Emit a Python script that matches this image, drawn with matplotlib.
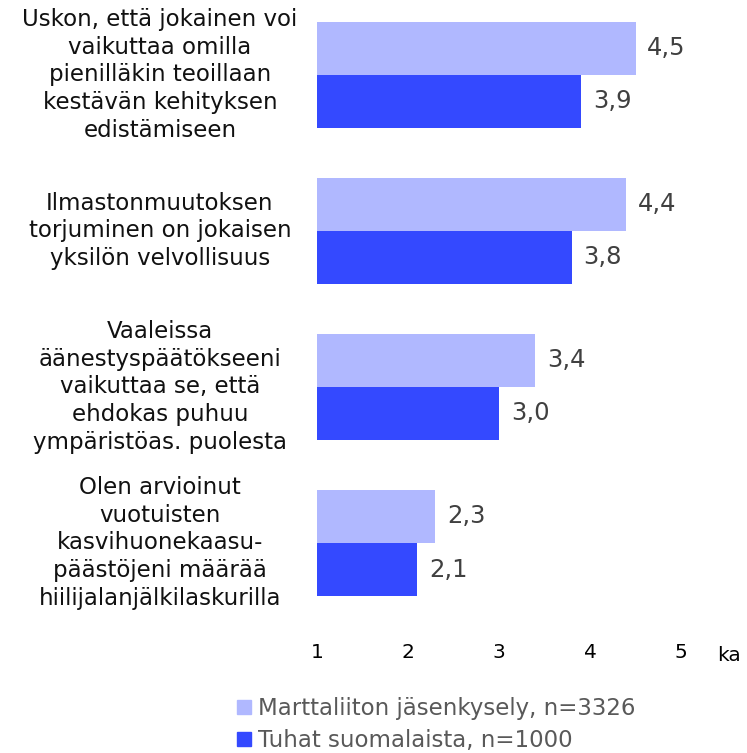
import matplotlib.pyplot as plt
from matplotlib.patches import Patch
import matplotlib.transforms as mtransforms

# Väittämät (ylhäältä alas)
categories = [
    "Uskon, että jokainen voi\nvaikuttaa omilla\npienilläkin teoillaan\nkestävän kehityksen\nedistämiseen",
    "Ilmastonmuutoksen\ntorjuminen on jokaisen\nyksilön velvollisuus",
    "Vaaleissa\näänestyspäätökseeni\nvaikuttaa se, että\nehdokas puhuu\nympäristöas. puolesta",
    "Olen arvioinut\nvuotuisten\nkasvihuonekaasu-\npäästöjeni määrää\nhiilijalanjälkilaskurilla",
]
marttaliitto = [4.5, 4.4, 3.4, 2.3]
suomalaiset = [3.9, 3.8, 3.0, 2.1]
series_names = ["Marttaliiton jäsenkysely, n=3326", "Tuhat suomalaista, n=1000"]
xticks = [1, 2, 3, 4, 5]

light = "#b0b8ff"
dark = "#3449ff"

W, H = 747, 753
fig = plt.figure(figsize=(W / 100, H / 100), dpi=100)
ax = fig.add_axes([317 / W, (H - 621) / H, (681 - 317) / W, 621 / H])

h = 0.34
ypos = list(range(len(categories)))
for i in ypos:
    ax.barh(i - h / 2, marttaliitto[i] - 1, left=1, height=h, color=light)
    ax.barh(i + h / 2, suomalaiset[i] - 1, left=1, height=h, color=dark)
    ax.text(marttaliitto[i] + 0.13, i - h / 2, f"{marttaliitto[i]:.1f}".replace(".", ","),
            va="center", ha="left", fontsize=17.5, color="#404040")
    ax.text(suomalaiset[i] + 0.13, i + h / 2, f"{suomalaiset[i]:.1f}".replace(".", ","),
            va="center", ha="left", fontsize=17.5, color="#404040")

ax.set_xlim(1, 5)
ax.set_ylim(3.5, -0.48)
ax.set_xticks(xticks)
ax.set_xticklabels([str(t) for t in xticks], fontsize=14.5)
ax.set_yticks([])
ax.tick_params(axis="x", length=0, pad=16)
for s in ax.spines.values():
    s.set_visible(False)

# "ka" akselin perään
ax.text(729 / W, -0.055, "ka", transform=mtransforms.blended_transform_factory(fig.transFigure, ax.transAxes),
        fontsize=14.5, ha="center", va="center")

# kategorioiden tekstit
trans = mtransforms.blended_transform_factory(fig.transFigure, ax.transData)
for i, cat in enumerate(categories):
    ax.text(160 / W, i, cat, transform=trans, ha="center", va="center",
            multialignment="center", fontsize=16.5, linespacing=1.27, color="#111111")

handles = [Patch(color=light), Patch(color=dark)]
leg = fig.legend(handles, series_names, loc="upper left", bbox_to_anchor=(228 / W, (H - 688) / H),
                 frameon=False, fontsize=16.5, handlelength=0.6, handleheight=0.6,
                 handletextpad=0.3, labelspacing=0.38, borderaxespad=0)
for t in leg.get_texts():
    t.set_color("#595959")

fig.savefig("out.png", dpi=100)
